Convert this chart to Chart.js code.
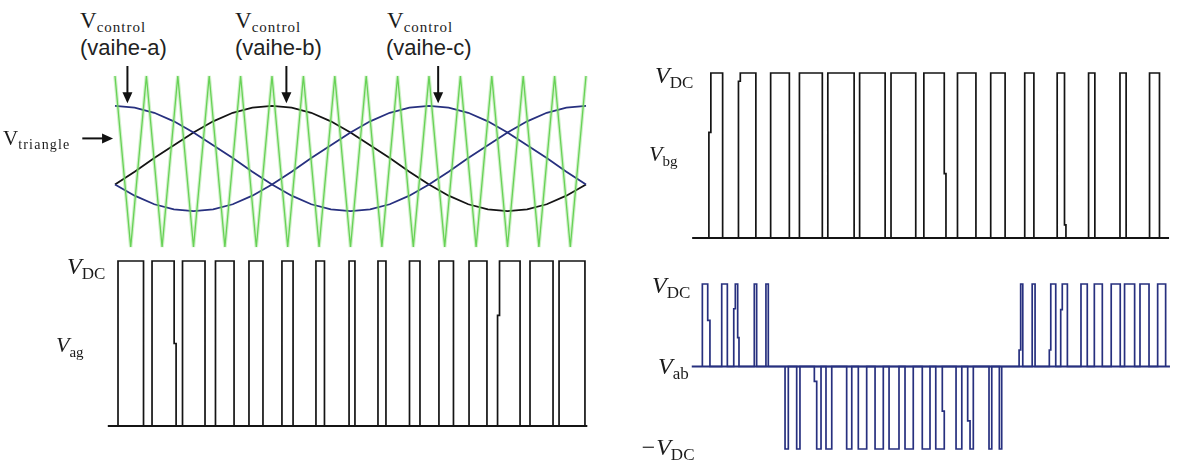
<!DOCTYPE html>
<html>
<head>
<meta charset="utf-8">
<script src="https://cdn.jsdelivr.net/npm/chart.js@4.4.1/dist/chart.umd.min.js"></script>
<style>
  body { margin: 0; background: #fff; width: 1179px; height: 463px; overflow: hidden; position: relative; }
  canvas { position: absolute; }
  .lbl { position: absolute; white-space: nowrap; color: #1b1b1b; line-height: 1; }
  .up { font-family: "Liberation Serif", serif; }
  .up sub { font-size: 15px; vertical-align: -4px; letter-spacing: 1px; }
  .ph { font-family: "Liberation Sans", Arial, sans-serif; font-size: 22px; color: #222; }
  .it { font-family: "Liberation Serif", serif; font-style: italic; font-size: 24px; }
  .it sub { font-style: normal; font-size: 17px; vertical-align: -5px; }
</style>
</head>
<body>

<canvas id="cCtrl"></canvas>
<canvas id="cAg"></canvas>
<canvas id="cBg"></canvas>
<canvas id="cAb"></canvas>

<div class="lbl up" style="left:80px;top:9px;font-size:23px">V<sub>control</sub></div>
<div class="lbl ph" style="left:80px;top:37px">(vaihe-a)</div>
<div class="lbl up" style="left:235px;top:9px;font-size:23px">V<sub>control</sub></div>
<div class="lbl ph" style="left:235px;top:37px">(vaihe-b)</div>
<div class="lbl up" style="left:387px;top:9px;font-size:23px">V<sub>control</sub></div>
<div class="lbl ph" style="left:386px;top:37px">(vaihe-c)</div>
<div class="lbl up" style="left:3px;top:128px;font-size:21px">V<sub style="font-size:14px;letter-spacing:1.2px">triangle</sub></div>

<div class="lbl it" style="left:67px;top:254px">V<sub>DC</sub></div>
<div class="lbl it" style="left:56px;top:334px;font-size:22px">V<sub style="font-size:15px">ag</sub></div>

<div class="lbl it" style="left:655px;top:63px">V<sub>DC</sub></div>
<div class="lbl it" style="left:649px;top:143px;font-size:22px">V<sub style="font-size:15px">bg</sub></div>

<div class="lbl it" style="left:652px;top:273px">V<sub>DC</sub></div>
<div class="lbl it" style="left:658px;top:354px">V<sub style="font-size:17px">ab</sub></div>
<div class="lbl it" style="left:640px;top:435px">&minus;V<sub>DC</sub></div>

<script>
// angle axis in degrees, one period of the control voltages
const angle = [0, 15, 30, 45, 60, 75, 90, 105, 120, 135, 150, 165, 180,
               195, 210, 225, 240, 255, 270, 285, 300, 315, 330, 345, 360];
const ctrlA = [0.65, 0.63, 0.57, 0.47, 0.34, 0.19, 0.04, -0.12, -0.27, -0.40, -0.50, -0.56, -0.58,
               -0.56, -0.50, -0.40, -0.27, -0.12, 0.04, 0.19, 0.34, 0.47, 0.57, 0.63, 0.65];
const ctrlB = [-0.27, -0.12, 0.04, 0.19, 0.34, 0.47, 0.57, 0.63, 0.65, 0.63, 0.57, 0.47, 0.34,
               0.19, 0.04, -0.12, -0.27, -0.40, -0.50, -0.56, -0.58, -0.56, -0.50, -0.40, -0.27];
const ctrlC = [-0.27, -0.40, -0.50, -0.56, -0.58, -0.56, -0.50, -0.40, -0.27, -0.12, 0.04, 0.19, 0.34,
               0.47, 0.57, 0.63, 0.65, 0.63, 0.57, 0.47, 0.34, 0.19, 0.04, -0.12, -0.27];

// triangle carrier corners
const triAngle = [0, 12, 24, 36, 48, 60, 72, 84, 96, 108, 120, 132, 144, 156, 168, 180,
                  192, 204, 216, 228, 240, 252, 264, 276, 288, 300, 312, 324, 336, 348, 360];
const triLevel = [1, -1, 1, -1, 1, -1, 1, -1, 1, -1, 1, -1, 1, -1, 1, -1,
                  1, -1, 1, -1, 1, -1, 1, -1, 1, -1, 1, -1, 1, -1, 1];

// switching edges (degrees)
const agOn  = [2.3, 28.3, 51.6, 76.8, 102.4, 127.6, 153.6, 178.9, 201.0, 225.1, 247.6, 270.6, 292.4, 317.2, 339.4];
const agOff = [21.8, 45.2, 68.8, 91.0, 113.1, 136.1, 160.1, 183.4, 207.1, 233.1, 258.7, 284.3, 309.6, 334.8, 359.2];

const bgOn  = [6.8, 29.4, 54.0, 76.0, 97.7, 122.0, 146.0, 171.1, 196.8, 222.2, 248.2, 273.0, 297.0, 321.0, 343.6];
const bgOff = [17.3, 42.7, 68.3, 93.5, 117.8, 141.5, 164.9, 186.7, 210.9, 233.2, 255.2, 278.6, 301.8, 325.7, 351.2];

const abPosOn  = [1.8, 16.6, 25.8, 41.5, 50.4, 243.9, 253.9, 267.0, 275.7, 291.2, 301.4, 314.3, 324.5, 336.3, 349.8];
const abPosOff = [5.9, 20.9, 28.8, 43.3, 52.2, 246.7, 256.1, 271.9, 280.8, 296.0, 307.5, 321.2, 332.2, 343.2, 355.9];
const abNegOn  = [65.0, 73.9, 87.4, 96.3, 112.1, 121.0, 133.8, 144.5, 156.7, 169.9, 180.2, 195.7, 204.6, 220.9, 228.8];
const abNegOff = [67.5, 76.4, 92.5, 100.7, 116.0, 127.4, 140.1, 152.1, 163.0, 175.8, 186.7, 200.1, 208.9, 223.0, 230.6];

// small jogs on some edges: pulse index, edge, level fraction where the jog sits, angle after the jog
const agJogPulse = [1, 12];
const agJogEdge  = ["off", "on"];
const agJogLevel = [0.50, 0.67];
const agJogAngle = [46.7, 293.9];

const bgJogPulse = [0, 1, 7, 11];
const bgJogEdge  = ["on", "on", "off", "off"];
const bgJogLevel = [0.64, 0.95, 0.39, 0.08];
const bgJogAngle = [8.3, 30.8, 188.0, 279.7];

const abPosJogPulse = [0, 2, 2, 5, 7, 8];
const abPosJogEdge  = ["off", "on", "off", "on", "on", "on"];
const abPosJogLevel = [0.56, 0.70, 0.35, 0.20, 0.20, 0.69];
const abPosJogAngle = [7.6, 27.0, 29.8, 245.1, 268.1, 276.9];

const abNegJogPulse = [2, 10, 12];
const abNegJogEdge  = ["on", "off", "on"];
const abNegJogLevel = [0.18, 0.54, 0.66];
const abNegJogAngle = [89.2, 185.2, 206.4];

// annotation arrows
const ctrlArrows = [9.5, 131, 247];

const BLACK = "#141414";
const NAVY = "#27307f";
const GREEN = "#5fcf4f";

function pulses(on, off, level, jogPulse, jogEdge, jogLevel, jogAngle) {
  const jogs = {};
  (jogPulse || []).forEach((p, k) => {
    jogs[p + jogEdge[k]] = { f: jogLevel[k], a: jogAngle[k] };
  });
  const pts = [];
  on.forEach((t, i) => {
    const jo = jogs[i + "on"], jf = jogs[i + "off"];
    if (jo) {
      pts.push({ x: t, y: 0 }, { x: t, y: jo.f * level }, { x: jo.a, y: jo.f * level }, { x: jo.a, y: level });
    } else {
      pts.push({ x: t, y: 0 }, { x: t, y: level });
    }
    if (jf) {
      pts.push({ x: off[i], y: level }, { x: off[i], y: jf.f * level }, { x: jf.a, y: jf.f * level }, { x: jf.a, y: 0 });
    } else {
      pts.push({ x: off[i], y: level }, { x: off[i], y: 0 });
    }
  });
  return pts;
}

function pairs(xs, ys) {
  return xs.map((x, i) => ({ x, y: ys[i] }));
}

function line(data, color, width) {
  return {
    data, borderColor: color, borderWidth: width, pointRadius: 0,
    fill: false, tension: 0, clip: false, borderJoinStyle: "miter"
  };
}

// place a canvas so that the chart area covers the given page rectangle
function makeChart(id, rect, pad, yMin, yMax, datasets, plugins) {
  const cv = document.getElementById(id);
  const w = rect.r - rect.l + pad.left + pad.right;
  const h = rect.b - rect.t + pad.top + pad.bottom;
  cv.width = w; cv.height = h;
  cv.style.left = (rect.l - pad.left) + "px";
  cv.style.top = (rect.t - pad.top) + "px";
  return new Chart(cv, {
    type: "line",
    data: { datasets },
    options: {
      responsive: false, animation: false,
      layout: { padding: pad },
      plugins: { legend: { display: false }, tooltip: { enabled: false } },
      scales: {
        x: { type: "linear", min: 0, max: 360, display: false },
        y: { type: "linear", min: yMin, max: yMax, display: false }
      }
    },
    plugins: plugins || []
  });
}

function arrowHead(ctx, x, y, dx, dy) {
  const len = 11, half = 5;
  const nx = -dy, ny = dx;
  ctx.beginPath();
  ctx.moveTo(x, y);
  ctx.lineTo(x - dx * len + nx * half, y - dy * len + ny * half);
  ctx.lineTo(x - dx * len - nx * half, y - dy * len - ny * half);
  ctx.closePath();
  ctx.fill();
}

const arrowPlugin = {
  id: "arrows",
  afterDatasetsDraw(chart) {
    const { ctx, scales: { x, y } } = chart;
    ctx.save();
    ctx.strokeStyle = "#111";
    ctx.fillStyle = "#111";
    ctx.lineWidth = 2;
    ctrlArrows.forEach(a => {
      const px = x.getPixelForValue(a);
      const y0 = y.getPixelForValue(1.17), y1 = y.getPixelForValue(0.68);
      ctx.beginPath(); ctx.moveTo(px, y0); ctx.lineTo(px, y1 - 8); ctx.stroke();
      arrowHead(ctx, px, y1, 0, 1);
    });
    const ty = y.getPixelForValue(0.27);
    const tx0 = x.getPixelForValue(-25), tx1 = x.getPixelForValue(-1.5);
    ctx.beginPath(); ctx.moveTo(tx0, ty); ctx.lineTo(tx1 - 8, ty); ctx.stroke();
    arrowHead(ctx, tx1, ty, 1, 0);
    ctx.restore();
  }
};

// control voltages and triangle carrier
makeChart("cCtrl", { l: 115, r: 586, t: 76, b: 247 }, { left: 115, right: 20, top: 10, bottom: 8 }, -1, 1, [
  line(pairs(triAngle, triLevel), "rgba(120,215,100,0.35)", 3.5),
  line(pairs(triAngle, triLevel), GREEN, 1.3),
  line(pairs(angle, ctrlA), NAVY, 1.8),
  line(pairs(angle, ctrlC), NAVY, 1.8),
  line(pairs(angle, ctrlB), BLACK, 1.8)
], [arrowPlugin]);

// V_ag
makeChart("cAg", { l: 115, r: 586, t: 261, b: 426 }, { left: 20, right: 20, top: 6, bottom: 8 }, 0, 1, [
  line([{ x: -5.5, y: 0 }, { x: 361, y: 0 }], BLACK, 1.8),
  line(pulses(agOn, agOff, 1, agJogPulse, agJogEdge, agJogLevel, agJogAngle), BLACK, 1.7)
]);

// V_bg
makeChart("cBg", { l: 700, r: 1171, t: 73, b: 238 }, { left: 20, right: 8, top: 6, bottom: 8 }, 0, 1, [
  line([{ x: -6, y: 0 }, { x: 358.5, y: 0 }], BLACK, 1.8),
  line(pulses(bgOn, bgOff, 1, bgJogPulse, bgJogEdge, bgJogLevel, bgJogAngle), BLACK, 1.7)
]);

// V_ab
makeChart("cAb", { l: 700, r: 1171, t: 284, b: 449 }, { left: 20, right: 8, top: 6, bottom: 8 }, -1, 1, [
  line([{ x: -6.3, y: 0 }, { x: 359.2, y: 0 }], NAVY, 1.8),
  line(pulses(abPosOn, abPosOff, 1, abPosJogPulse, abPosJogEdge, abPosJogLevel, abPosJogAngle), NAVY, 1.7),
  line(pulses(abNegOn, abNegOff, -1, abNegJogPulse, abNegJogEdge, abNegJogLevel, abNegJogAngle), NAVY, 1.7)
]);
</script>
</body>
</html>
